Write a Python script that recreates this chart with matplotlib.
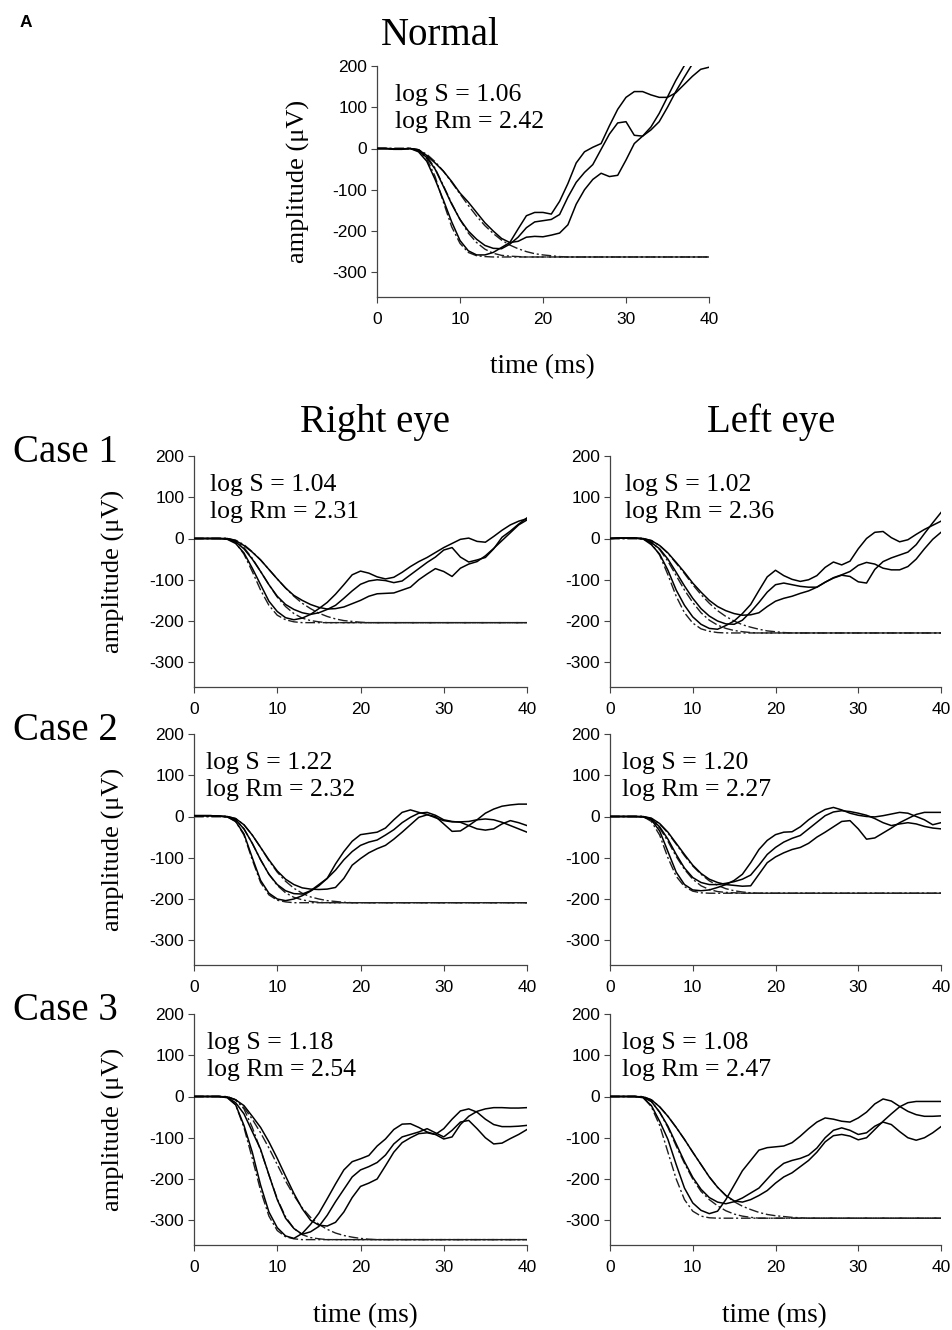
import numpy as np
import matplotlib
matplotlib.use("Agg")
import matplotlib.pyplot as plt

plt.rcParams["axes.unicode_minus"] = False

# ---------------- data (amplitude in microvolts, sampled every 1 ms) ----------------
t_ms = np.arange(0, 41)          # time axis of the recorded traces (ms)
t_fit = np.arange(0, 25)         # time axis of the fitted curves before the plateau

# Normal
normal_rec_a = [0, 0, -2, -2, 0, -8, -31, -75, -125, -178, -223, -248, -258, -258, -252, -240, -228, -195, -163, -155,
                -155, -159, -128, -85, -35, -8, 3, 12, 55, 95, 124, 138, 138, 130, 124, 124, 135, 155, 175, 192, 197]
normal_rec_b = [0, 0, -1, -1, 0, -5, -22, -50, -92, -135, -172, -200, -220, -235, -242, -243, -232, -215, -192, -178,
                -175, -172, -160, -118, -82, -58, -39, -2, 35, 62, 65, 32, 30, 52, 85, 125, 165, 200, 235, 265, 295]
normal_rec_c = [0, 0, -1, -1, 0, -3, -17, -35, -55, -80, -108, -130, -155, -180, -200, -218, -228, -225, -215, -213,
                -214, -210, -205, -185, -135, -100, -75, -60, -68, -65, -28, 12, 30, 45, 65, 100, 138, 172, 205, 240, 270]
normal_fit_a = [0, 0, 0, 0, 0, -5, -25, -68, -130, -190, -230, -252, -260, -262, -263, -263, -263, -263, -263, -263,
                -263, -263, -263, -263, -263]
normal_fit_b = [0, 0, 0, 0, 0, -3, -18, -48, -90, -133, -172, -205, -228, -244, -254, -259, -261, -262, -263, -263,
                -263, -263, -263, -263, -263]
normal_fit_c = [0, 0, 0, 0, 0, -3, -14, -32, -55, -82, -110, -138, -164, -187, -206, -222, -234, -243, -250, -255,
                -258, -260, -262, -263, -263]

# Case 1, right eye
c1r_rec_a = [0, 0, 0, 0, -2, -12, -35, -72, -112, -152, -177, -192, -197, -193, -184, -170, -155, -135, -112, -88,
             -79, -84, -93, -98, -94, -82, -68, -56, -46, -34, -22, -12, -2, 1, -7, -9, 5, 20, 33, 42, 48]
c1r_rec_b = [0, 0, 0, 0, -1, -8, -25, -50, -80, -112, -140, -160, -172, -180, -184, -180, -172, -162, -145, -127,
             -111, -103, -100, -102, -107, -103, -88, -73, -58, -45, -28, -22, -45, -57, -52, -46, -25, 3, 18, 35, 50]
c1r_rec_c = [0, 0, 0, 0, 0, -5, -17, -33, -52, -75, -98, -120, -138, -150, -160, -167, -171, -170, -166, -158,
             -150, -140, -134, -133, -132, -125, -118, -100, -86, -73, -80, -92, -72, -62, -56, -42, -24, -5, 14, 33, 45]
c1r_fit_a = [0, 0, 0, 0, 0, -10, -38, -80, -125, -162, -186, -197, -202, -204, -204, -204, -204, -204, -204, -204,
             -204, -204, -204, -204, -204]
c1r_fit_b = [0, 0, 0, 0, 0, -6, -22, -48, -80, -112, -142, -165, -182, -193, -199, -202, -204, -204, -204, -204,
             -204, -204, -204, -204, -204]
c1r_fit_c = [0, 0, 0, 0, 0, -4, -15, -32, -52, -75, -98, -120, -140, -157, -170, -181, -189, -195, -199, -201,
             -203, -204, -204, -204, -204]

# Case 1, left eye
c1l_rec_a = [0, 1, 1, 1, -1, -15, -38, -77, -125, -162, -190, -208, -218, -220, -211, -200, -182, -160, -126, -93,
             -77, -90, -99, -104, -100, -90, -70, -57, -64, -55, -25, 0, 15, 17, 2, -8, -3, 10, 22, 32, 42]
c1l_rec_b = [0, 1, 1, 1, -1, -10, -25, -50, -82, -115, -145, -170, -188, -200, -207, -208, -198, -178, -155, -130,
             -112, -108, -112, -116, -118, -118, -106, -95, -88, -80, -65, -58, -62, -72, -76, -76, -68, -50, -25, -2, 15]
c1l_rec_c = [0, 1, 1, 1, 0, -5, -17, -35, -58, -82, -108, -130, -150, -165, -175, -182, -186, -185, -180, -165,
             -152, -145, -140, -133, -127, -118, -106, -96, -89, -92, -105, -108, -75, -56, -47, -40, -33, -15, 12, 38, 63]
c1l_fit_a = [0, 0, 0, 0, 0, -12, -40, -88, -140, -180, -205, -219, -225, -228, -229, -229, -229, -229, -229, -229,
             -229, -229, -229, -229, -229]
c1l_fit_b = [0, 0, 0, 0, 0, -8, -27, -55, -90, -125, -155, -180, -198, -210, -218, -223, -226, -228, -229, -229,
             -229, -229, -229, -229, -229]
c1l_fit_c = [0, 0, 0, 0, 0, -5, -17, -36, -60, -85, -112, -136, -157, -175, -189, -200, -209, -215, -220, -224,
             -226, -228, -229, -229, -229]

# Case 2, right eye
c2r_rec_a = [2, 2, 2, 1, -1, -12, -42, -100, -155, -186, -200, -204, -200, -192, -181, -168, -150, -115, -85, -60,
             -44, -41, -38, -28, -8, 10, 16, 10, 5, -3, -10, -13, -13, -12, -8, -6, -8, -14, -22, -30, -38]
c2r_rec_b = [2, 2, 2, 1, -1, -8, -30, -65, -105, -140, -165, -180, -187, -188, -180, -165, -150, -130, -105, -85,
             -70, -62, -57, -45, -32, -15, -2, 8, 10, 3, -8, -12, -14, -22, -30, -33, -30, -18, -10, -15, -22]
c2r_rec_c = [2, 2, 2, 1, 0, -5, -20, -45, -75, -105, -132, -152, -165, -173, -176, -177, -176, -172, -150, -118,
             -102, -88, -78, -70, -55, -38, -20, -2, 4, 0, -18, -36, -35, -22, -8, 8, 18, 25, 28, 30, 30]
c2r_fit_a = [0, 0, 0, 0, 0, -12, -45, -105, -160, -190, -203, -207, -209, -209, -209, -209, -209, -209, -209, -209,
             -209, -209, -209, -209, -209]
c2r_fit_b = [0, 0, 0, 0, 0, -8, -30, -65, -105, -140, -167, -185, -196, -202, -206, -208, -209, -209, -209, -209,
             -209, -209, -209, -209, -209]
c2r_fit_c = [0, 0, 0, 0, 0, -5, -20, -45, -75, -107, -135, -157, -174, -186, -195, -200, -204, -206, -208, -209,
             -209, -209, -209, -209, -209]

# Case 2, left eye
c2l_rec_a = [0, 0, 0, 0, -1, -8, -35, -85, -135, -165, -178, -180, -178, -172, -165, -155, -140, -112, -80, -58,
             -44, -38, -37, -25, -8, 6, 17, 22, 16, 8, 3, 0, -1, 2, 6, 10, 8, 0, -8, -20, -15]
c2l_rec_b = [0, 0, 0, 0, -1, -6, -25, -55, -92, -125, -148, -160, -165, -165, -162, -158, -152, -142, -118, -92,
             -75, -62, -53, -46, -30, -14, 2, 11, 14, 12, 8, 3, -5, -15, -22, -18, -15, -18, -24, -28, -30]
c2l_rec_c = [0, 0, 0, 0, 0, -4, -17, -38, -65, -92, -118, -138, -152, -160, -165, -167, -169, -168, -140, -112,
             -98, -88, -80, -75, -65, -50, -38, -25, -12, -10, -30, -55, -52, -40, -28, -15, -5, 5, 10, 10, 10]
c2l_fit_a = [0, 0, 0, 0, 0, -12, -45, -100, -145, -170, -181, -185, -186, -186, -186, -186, -186, -186, -186, -186,
             -186, -186, -186, -186, -186]
c2l_fit_b = [0, 0, 0, 0, 0, -7, -28, -60, -97, -128, -152, -168, -177, -182, -184, -185, -186, -186, -186, -186,
             -186, -186, -186, -186, -186]
c2l_fit_c = [0, 0, 0, 0, 0, -5, -18, -40, -67, -95, -120, -140, -156, -167, -175, -180, -183, -185, -186, -186,
             -186, -186, -186, -186, -186]

# Case 3, right eye
c3r_rec_a = [0, 0, 0, 0, -3, -20, -70, -135, -215, -280, -318, -338, -344, -332, -310, -283, -248, -212, -178, -158,
             -151, -143, -120, -103, -80, -67, -66, -75, -86, -92, -78, -55, -35, -30, -38, -55, -68, -73, -73, -72, -70]
c3r_rec_b = [0, 0, 0, 0, -2, -15, -42, -85, -128, -190, -250, -295, -320, -334, -328, -315, -288, -255, -225, -195,
             -178, -170, -160, -142, -115, -98, -92, -86, -78, -88, -98, -82, -62, -58, -78, -100, -115, -113, -102, -92, -80]
c3r_rec_c = [0, 0, 0, 0, -1, -8, -22, -48, -75, -110, -150, -193, -235, -272, -300, -312, -314, -305, -280, -245,
             -218, -210, -200, -168, -135, -112, -100, -90, -88, -92, -103, -98, -68, -48, -36, -30, -27, -27, -28, -28, -27]
c3r_fit_a = [0, 0, 0, 0, -2, -20, -75, -150, -228, -290, -325, -340, -345, -347, -347, -347, -347, -347, -347, -347,
             -347, -347, -347, -347, -347]
c3r_fit_b = [0, 0, 0, 0, -1, -8, -30, -75, -130, -190, -248, -292, -320, -335, -342, -345, -347, -347, -347, -347,
             -347, -347, -347, -347, -347]
c3r_fit_c = [0, 0, 0, 0, 0, -8, -27, -55, -88, -125, -165, -205, -240, -270, -293, -310, -322, -331, -337, -341,
             -344, -346, -347, -347, -347]

# Case 3, left eye
c3l_rec_a = [0, 0, 0, 0, -3, -22, -60, -104, -165, -222, -258, -276, -284, -278, -250, -215, -180, -155, -130, -124,
             -122, -120, -112, -96, -78, -62, -52, -55, -60, -62, -52, -38, -18, -6, -11, -24, -36, -44, -48, -48, -47]
c3l_rec_b = [0, 0, 0, 0, -2, -12, -38, -72, -115, -158, -196, -225, -245, -256, -260, -255, -246, -234, -222, -200,
             -178, -162, -155, -150, -142, -125, -100, -82, -76, -82, -92, -88, -72, -62, -68, -85, -100, -106, -100, -88, -73]
c3l_rec_c = [0, 0, 0, 0, -1, -8, -25, -48, -75, -104, -135, -165, -195, -220, -240, -253, -256, -250, -240, -228,
             -210, -195, -185, -170, -155, -135, -110, -95, -92, -96, -105, -100, -80, -60, -42, -25, -15, -12, -12, -12, -12]
c3l_fit_a = [0, 0, 0, 0, -2, -25, -70, -135, -200, -250, -278, -290, -294, -295, -295, -295, -295, -295, -295, -295,
             -295, -295, -295, -295, -295]
c3l_fit_b = [0, 0, 0, 0, -1, -12, -38, -75, -120, -162, -200, -230, -250, -265, -277, -285, -290, -293, -295, -295,
             -295, -295, -295, -295, -295]
c3l_fit_c = [0, 0, 0, 0, 0, -8, -25, -48, -75, -104, -135, -165, -195, -220, -240, -255, -266, -274, -281, -286,
             -289, -291, -293, -294, -295]

# fitted parameters shown in each panel
log_s = {"normal": "1.06", "c1r": "1.04", "c1l": "1.02", "c2r": "1.22", "c2l": "1.20", "c3r": "1.18", "c3l": "1.08"}
log_rm = {"normal": "2.42", "c1r": "2.31", "c1l": "2.36", "c2r": "2.32", "c2l": "2.27", "c3r": "2.54", "c3l": "2.47"}

x_ticks = [0, 10, 20, 30, 40]
y_ticks = [-300, -200, -100, 0, 100, 200]
case_labels = ["Case 1", "Case 2", "Case 3"]
eye_labels = ["Right eye", "Left eye"]

# ---------------- figure ----------------
W, H = 952, 1330
fig = plt.figure(figsize=(W / 100, H / 100), dpi=100)
fig.patch.set_facecolor("white")

SERIF = ["Liberation Serif", "DejaVu Serif"]
SANS = ["Liberation Sans", "DejaVu Sans"]


def px_rect(left, top, right, bottom):
    return [left / W, 1 - bottom / H, (right - left) / W, (bottom - top) / H]


panels = [
    ("normal", px_rect(377, 66, 709, 297),
     (normal_rec_a, normal_rec_b, normal_rec_c), (normal_fit_a, normal_fit_b, normal_fit_c), 2.2),
    ("c1r", px_rect(194, 456, 527, 687), (c1r_rec_a, c1r_rec_b, c1r_rec_c), (c1r_fit_a, c1r_fit_b, c1r_fit_c), 1.9),
    ("c1l", px_rect(610, 456, 941, 687), (c1l_rec_a, c1l_rec_b, c1l_rec_c), (c1l_fit_a, c1l_fit_b, c1l_fit_c), 1.8),
    ("c2r", px_rect(194, 734, 527, 965), (c2r_rec_a, c2r_rec_b, c2r_rec_c), (c2r_fit_a, c2r_fit_b, c2r_fit_c), 1.5),
    ("c2l", px_rect(610, 734, 941, 965), (c2l_rec_a, c2l_rec_b, c2l_rec_c), (c2l_fit_a, c2l_fit_b, c2l_fit_c), 1.4),
    ("c3r", px_rect(194, 1014, 527, 1245), (c3r_rec_a, c3r_rec_b, c3r_rec_c), (c3r_fit_a, c3r_fit_b, c3r_fit_c), 1.6),
    ("c3l", px_rect(610, 1014, 941, 1245), (c3l_rec_a, c3l_rec_b, c3l_rec_c), (c3l_fit_a, c3l_fit_b, c3l_fit_c), 1.4),
]

for key, rect, recs, fits, tx in panels:
    ax = fig.add_axes(rect)
    for fit in fits:
        fit = np.asarray(fit, dtype=float)
        ft = np.append(t_fit, t_ms[-1])
        fv = np.append(fit, fit[-1])
        ax.plot(ft, fv, color="#1e1e1e", lw=1.0, linestyle=(0, (7, 2, 1.5, 2)), zorder=2)
    for rec in recs:
        ax.plot(t_ms, rec, color="black", lw=1.1, zorder=3)
    ax.set_xlim(0, 40)
    ax.set_ylim(-360, 200)
    ax.set_xticks(x_ticks)
    ax.set_yticks(y_ticks)
    for s in ("top", "right"):
        ax.spines[s].set_visible(False)
    for s in ("left", "bottom"):
        ax.spines[s].set_color("#444444")
        ax.spines[s].set_linewidth(0.9)
    ax.tick_params(axis="both", direction="out", length=4, width=0.8, color="#444444")
    ax.tick_params(axis="x", pad=7)
    ax.tick_params(axis="y", pad=3)
    for lab in ax.get_xticklabels() + ax.get_yticklabels():
        lab.set_fontfamily(SANS)
        lab.set_fontsize(12.5)
    ax.text(tx, 130, "log S = " + log_s[key], fontsize=18.5, family=SERIF, va="center", ha="left")
    ax.text(tx, 64, "log Rm = " + log_rm[key], fontsize=18.5, family=SERIF, va="center", ha="left")

# y-axis labels
for xpix, ypix in [(298, 181), (113, 571), (113, 849), (113, 1129)]:
    fig.text(xpix / W, 1 - ypix / H, "amplitude (μV)", rotation=90, fontsize=19, family=SERIF,
             ha="center", va="center")

# titles and headings
fig.text(20 / W, 1 - 27 / H, "A", fontsize=12.5, family=SANS, fontweight="bold", ha="left", va="baseline")
fig.text(440 / W, 1 - 45 / H, "Normal", fontsize=28, family=SERIF, ha="center", va="baseline")
fig.text(375 / W, 1 - 432 / H, eye_labels[0], fontsize=28, family=SERIF, ha="center", va="baseline")
fig.text(771 / W, 1 - 432 / H, eye_labels[1], fontsize=28, family=SERIF, ha="center", va="baseline")
for lab, yb in zip(case_labels, [462, 740, 1020]):
    fig.text(65 / W, 1 - yb / H, lab, fontsize=28, family=SERIF, ha="center", va="baseline")

# x-axis labels
fig.text(542 / W, 1 - 373 / H, "time (ms)", fontsize=19.5, family=SERIF, ha="center", va="baseline")
fig.text(365 / W, 1 - 1322 / H, "time (ms)", fontsize=19.5, family=SERIF, ha="center", va="baseline")
fig.text(774 / W, 1 - 1322 / H, "time (ms)", fontsize=19.5, family=SERIF, ha="center", va="baseline")

fig.savefig("out.png", dpi=100, facecolor="white")
